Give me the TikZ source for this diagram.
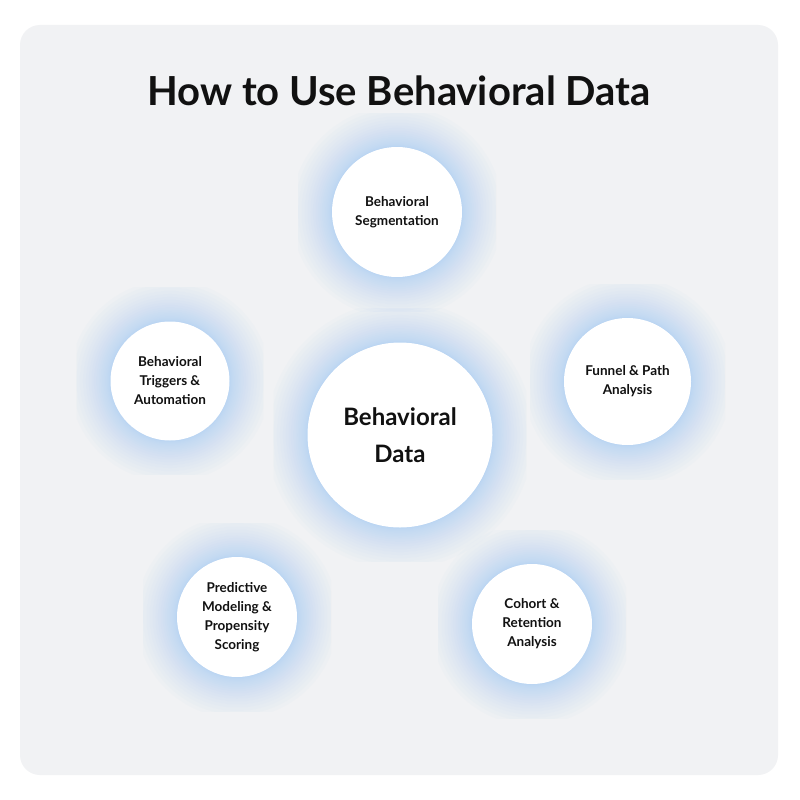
\documentclass[tikz,border=0pt]{standalone}
\usepackage{fontspec}
\setmainfont{Lato}
\definecolor{panelgray}{HTML}{F1F2F4}
\definecolor{glowblue}{HTML}{8CC2F2}
\definecolor{ink}{HTML}{111111}
\tikzset{
  bubble/.style={circle, fill=white, inner sep=0pt, align=center, text=ink, font=\bfseries\fontsize{13.5}{19}\selectfont},
  hub/.style={bubble, font=\bfseries\fontsize{24}{37}\selectfont},
  glowlayer/.style={fill=glowblue, opacity=0.032},
}
\begin{document}
\begin{tikzpicture}[x=1pt,y=-1pt]
\useasboundingbox (0,0) rectangle (800,800);
\fill[white] (0,0) rectangle (800,800);
\fill[panelgray, rounded corners=20pt] (20,25) rectangle (778,775);
% glows
\foreach \cx/\cy/\r in {400/435/92.5, 397/212/65, 170/381/59.5, 627.5/381.5/63.5, 237/617/60, 532/624/60}{
  \begin{scope}
    \clip (\cx-\r-34,\cy-\r-34) rectangle (\cx+\r+34,\cy+\r+34);
    \foreach \k in {1,...,22}{
      \fill[glowlayer] (\cx,\cy) circle ({\r+0.085*\k*\k});
    }
  \end{scope}
}
\node[font=\bfseries\fontsize{40}{48}\selectfont, text=ink, anchor=base] (title) at (399,105) {How to Use Behavioral Data};
\node[hub, minimum size=185pt] (hubc) at (400,435) {Behavioral\\Data};
\node[bubble, minimum size=130pt] (seg) at (397,212) {Behavioral\\Segmentation};
\node[bubble, minimum size=119pt] (trig) at (170,381) {Behavioral\\Triggers \&\\Automation};
\node[bubble, minimum size=127pt] (funnel) at (627.5,381.5) {Funnel \& Path\\Analysis};
\node[bubble, minimum size=120pt] (pred) at (237,617) {Predictive\\Modeling \&\\Propensity\\Scoring};
\node[bubble, minimum size=120pt] (cohort) at (532,624) {Cohort \&\\Retention\\Analysis};
\end{tikzpicture}
\end{document}
